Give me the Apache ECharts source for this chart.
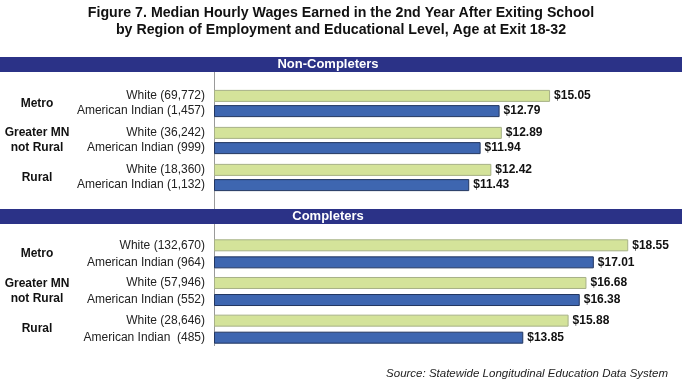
<!DOCTYPE html>
<html>
<head>
<meta charset="utf-8">
<script src="https://cdn.jsdelivr.net/npm/echarts@6/dist/echarts.min.js"></script>
<style>html,body{margin:0;padding:0;background:#fff}#c{width:682px;height:380px}</style>
</head>
<body>
<div id="c"></div>
<script>
const groups = ['Metro', 'Greater MN\nnot Rural', 'Rural'];
const panelTitles = ['Non-Completers', 'Completers'];
const nonWhiteNames = ['White (69,772)', 'White (36,242)', 'White (18,360)'];
const nonAINames = ['American Indian (1,457)', 'American Indian (999)', 'American Indian (1,132)'];
const nonWhite = [15.05, 12.89, 12.42];
const nonAI = [12.79, 11.94, 11.43];
const compWhiteNames = ['White (132,670)', 'White (57,946)', 'White (28,646)'];
const compAINames = ['American Indian (964)', 'American Indian (552)', 'American Indian  (485)'];
const compWhite = [18.55, 16.68, 15.88];
const compAI = [17.01, 16.38, 13.85];

const FONT = 'Liberation Sans, Arial, sans-serif';
const GREEN = '#d4e39a', GREEN_B = '#a7b187';
const BLUE = '#3e66b0', BLUE_B = '#223660';

const chart = echarts.init(document.getElementById('c'), null, {renderer: 'canvas'});

function valueSeries(data, xi, yi, color, border, gap) {
  return {
    type: 'bar', xAxisIndex: xi, yAxisIndex: yi, data: data, barWidth: 12, barGap: gap,
    itemStyle: {color: color, borderColor: border, borderWidth: 1},
    label: {show: true, position: 'right', distance: 4, color: '#111', fontFamily: FONT,
      fontWeight: 'bold', fontSize: 12, formatter: p => '$' + p.value.toFixed(2)},
    silent: true, animation: false
  };
}
function nameSeries(data, names, xi, yi, gap) {
  return {
    type: 'bar', xAxisIndex: xi, yAxisIndex: yi, data: data, barWidth: 12, barGap: gap,
    itemStyle: {color: 'rgba(0,0,0,0)'},
    label: {show: true, position: 'left', distance: 9, color: '#222', fontFamily: FONT,
      fontSize: 12, formatter: p => names[p.dataIndex]},
    silent: true, animation: false
  };
}
function xAx(g) { return {gridIndex: g, type: 'value', min: 0, max: 20, show: false}; }
function yAx(g, show) {
  return {gridIndex: g, type: 'category', data: groups, inverse: true, show: show,
    axisLine: {show: false}, axisTick: {show: false}, splitLine: {show: false},
    axisLabel: {show: show, align: 'center', margin: 177, color: '#111', fontFamily: FONT,
      fontWeight: 'bold', fontSize: 12, lineHeight: 15}};
}

const option = {
  animation: false,
  title: [
    {text: 'Figure 7. Median Hourly Wages Earned in the 2nd Year After Exiting School\nby Region of Employment and Educational Level, Age at Exit 18-32',
     left: 'center', top: 0,
     textStyle: {fontFamily: 'Liberation Sans Narrow, Arial Narrow, Liberation Sans, sans-serif', fontWeight: 'bold', fontSize: 14.2, lineHeight: 17, color: '#111'}},
    {text: 'Source: Statewide Longitudinal Education Data System', right: 9, top: 363,
     textStyle: {fontFamily: FONT, fontStyle: 'italic', fontWeight: 'normal', fontSize: 11.5, color: '#222'}}
  ],
  grid: [
    {left: 214, top: 85, width: 446.6, height: 111},
    {left: 214, top: 235, width: 446.6, height: 113}
  ],
  xAxis: [xAx(0), xAx(0), xAx(1), xAx(1)],
  yAxis: [yAx(0, true), yAx(0, false), yAx(1, true), yAx(1, false)],
  series: [
    valueSeries(nonWhite, 0, 0, GREEN, GREEN_B, '27%'),
    valueSeries(nonAI, 0, 0, BLUE, BLUE_B, '27%'),
    nameSeries(nonWhite, nonWhiteNames, 1, 1, '27%'),
    nameSeries(nonAI, nonAINames, 1, 1, '27%'),
    valueSeries(compWhite, 2, 2, GREEN, GREEN_B, '42%'),
    valueSeries(compAI, 2, 2, BLUE, BLUE_B, '42%'),
    nameSeries(compWhite, compWhiteNames, 3, 3, '42%'),
    nameSeries(compAI, compAINames, 3, 3, '42%')
  ],
  graphic: [
    {type: 'line', shape: {x1: 214.5, y1: 72, x2: 214.5, y2: 209}, style: {stroke: '#9a9a9a', lineWidth: 1}, z: 1},
    {type: 'line', shape: {x1: 214.5, y1: 224, x2: 214.5, y2: 346}, style: {stroke: '#9a9a9a', lineWidth: 1}, z: 1},
    {type: 'rect', shape: {x: 0, y: 57, width: 682, height: 15}, style: {fill: '#2b3287'}, z: 5},
    {type: 'text', x: 328, y: 64.5, style: {text: panelTitles[0], fill: '#fff', font: 'bold 13px ' + FONT, textAlign: 'center', textVerticalAlign: 'middle'}, z: 6},
    {type: 'rect', shape: {x: 0, y: 209, width: 682, height: 15}, style: {fill: '#2b3287'}, z: 5},
    {type: 'text', x: 328, y: 216.5, style: {text: panelTitles[1], fill: '#fff', font: 'bold 13px ' + FONT, textAlign: 'center', textVerticalAlign: 'middle'}, z: 6}
  ]
};
chart.setOption(option);
</script>
</body>
</html>
